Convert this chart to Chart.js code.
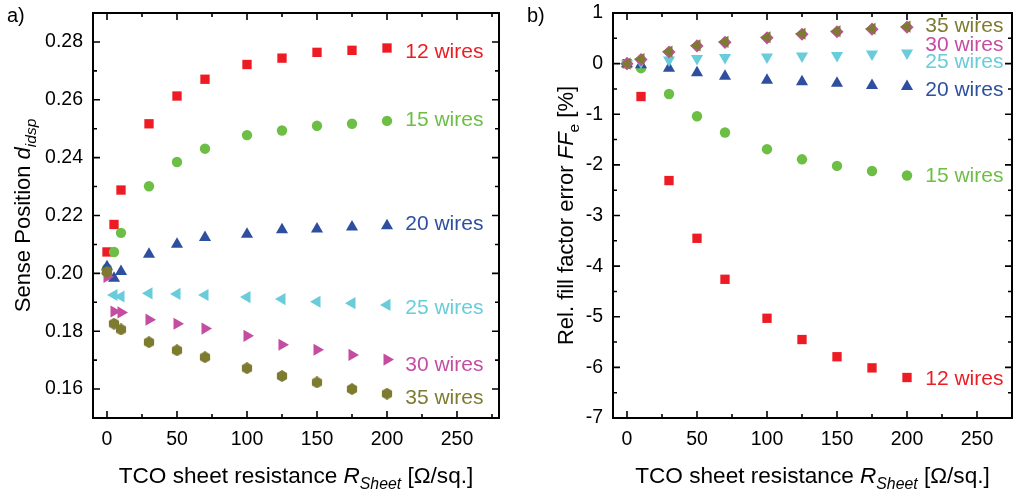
<!DOCTYPE html>
<html>
<head>
<meta charset="utf-8">
<script src="https://cdn.jsdelivr.net/npm/chart.js@4/dist/chart.umd.min.js"></script>
<style>
  html, body { margin: 0; padding: 0; background: #fff; }
  #wrap { position: relative; width: 1013px; height: 492px; }
  canvas { position: absolute; top: 0; }
  #chartA { left: 0; }
  #chartB { left: 506px; }
</style>
</head>
<body>
<div id="wrap">
  <canvas id="chartA" width="506" height="492"></canvas>
  <canvas id="chartB" width="507" height="492"></canvas>
</div>
<script>
// ---- data ----
const seriesNames = ['12 wires', '15 wires', '20 wires', '25 wires', '30 wires', '35 wires'];
const colors = ['#ED1C24', '#6DBE45', '#2E4F9F', '#68CCDA', '#C44DA2', '#7D7B30'];

// a) sense position
const rSheetA = [0, 5, 10, 30, 50, 70, 100, 125, 150, 175, 200];
const pos12 = [0.2074, 0.2169, 0.2288, 0.2517, 0.2613, 0.2671, 0.2722, 0.2744, 0.2764, 0.2771, 0.2779];
const pos15 = [0.2017, 0.2074, 0.2140, 0.2301, 0.2385, 0.2431, 0.2478, 0.2494, 0.2510, 0.2517, 0.2527];
const pos20 = [0.2023, 0.1983, 0.2006, 0.2066, 0.2101, 0.2124, 0.2135, 0.2151, 0.2153, 0.2160, 0.2165];
const pos25 = [0.2000, 0.1925, 0.1920, 0.1931, 0.1929, 0.1925, 0.1918, 0.1911, 0.1902, 0.1897, 0.1891];
const pos30 = [0.1988, 0.1868, 0.1865, 0.1840, 0.1826, 0.1809, 0.1784, 0.1753, 0.1736, 0.1718, 0.1702];
const pos35 = [0.2005, 0.1826, 0.1806, 0.1762, 0.1734, 0.1710, 0.1672, 0.1645, 0.1623, 0.1600, 0.1584];

// b) relative fill factor error [%]
const rSheetB = [0, 10, 30, 50, 70, 100, 125, 150, 175, 200];
const ffe12 = [0, -0.65, -2.31, -3.45, -4.26, -5.03, -5.45, -5.79, -6.01, -6.20];
const ffe15 = [0, -0.09, -0.60, -1.04, -1.36, -1.69, -1.89, -2.02, -2.12, -2.21];
const ffe20 = [0, -0.02, -0.09, -0.18, -0.25, -0.33, -0.36, -0.39, -0.43, -0.45];
const ffe25 = [0, 0.03, 0.07, 0.10, 0.12, 0.13, 0.15, 0.16, 0.19, 0.21];
const ffe30 = [0, 0.08, 0.23, 0.35, 0.42, 0.51, 0.58, 0.63, 0.68, 0.72];
const ffe35 = [0, 0.09, 0.24, 0.36, 0.43, 0.52, 0.59, 0.64, 0.69, 0.73];

// tick values
const xMajor = [0, 50, 100, 150, 200, 250];
const xMinor = [25, 75, 125, 175, 225, 275];
const yMajorA = [0.16, 0.18, 0.20, 0.22, 0.24, 0.26, 0.28];
const yMinorA = [0.15, 0.17, 0.19, 0.21, 0.23, 0.25, 0.27, 0.29];
const yMajorB = [-7, -6, -5, -4, -3, -2, -1, 0, 1];
const yMinorB = [-6.5, -5.5, -4.5, -3.5, -2.5, -1.5, -0.5, 0.5];

// series label anchors (data coordinates)
const labelXA = 213;
const labelYA = [0.2766, 0.2528, 0.2171, 0.1879, 0.1683, 0.1568];
const labelXB = 213;
const labelYB = [-6.23, -2.23, -0.52, 0.03, 0.37, 0.73];

// ---- helpers ----
const FONT = '"Liberation Sans", Arial, sans-serif';

function hexagon(color) {
  const c = document.createElement('canvas');
  c.width = 12; c.height = 12;
  const g = c.getContext('2d');
  g.fillStyle = color;
  g.beginPath();
  for (let i = 0; i < 6; i++) {
    const a = Math.PI / 3 * i - Math.PI / 2;
    g.lineTo(6 + 5.9 * Math.cos(a), 6 + 5.9 * Math.sin(a));
  }
  g.closePath();
  g.fill();
  return c;
}

function drawRich(ctx, parts, x, y) {
  // parts: [text, size, italic, dy]; centred on x
  const setFont = p => { ctx.font = (p[2] ? 'italic ' : '') + p[1] + 'px ' + FONT; };
  let w = 0;
  parts.forEach(p => { setFont(p); w += ctx.measureText(p[0]).width; });
  let cx = x - w / 2;
  parts.forEach(p => { setFont(p); ctx.fillText(p[0], cx, y + (p[3] || 0)); cx += ctx.measureText(p[0]).width; });
}

// scales must not reserve extra room for their labels
const noPad = s => { s.paddingTop = 0; s.paddingBottom = 0; s.paddingLeft = 0; s.paddingRight = 0; };

const framePlugin = {
  id: 'frame',
  afterDatasetsDraw(chart, args, o) {
    const { ctx, scales: { x, y } } = chart;
    ctx.save();
    ctx.font = '21px ' + FONT;
    ctx.textBaseline = 'middle';
    ctx.textAlign = 'left';
    o.labelY.forEach((v, i) => {
      ctx.fillStyle = colors[i];
      ctx.fillText(seriesNames[i], x.getPixelForValue(o.labelX), y.getPixelForValue(v));
    });
    ctx.restore();
  },
  afterDraw(chart, args, o) {
    const { ctx, chartArea: a, scales: { x, y } } = chart;
    ctx.save();
    ctx.strokeStyle = '#000';
    ctx.lineWidth = 2;
    ctx.strokeRect(a.left, a.top, a.right - a.left, a.bottom - a.top);
    ctx.lineWidth = 1.6;
    ctx.beginPath();
    const xt = (vals, len) => vals.forEach(v => {
      const px = x.getPixelForValue(v);
      if (px < a.left || px > a.right) return;
      ctx.moveTo(px, a.bottom); ctx.lineTo(px, a.bottom - len);
      ctx.moveTo(px, a.top); ctx.lineTo(px, a.top + len);
    });
    const yt = (vals, len) => vals.forEach(v => {
      const py = y.getPixelForValue(v);
      ctx.moveTo(a.left, py); ctx.lineTo(a.left + len, py);
      ctx.moveTo(a.right, py); ctx.lineTo(a.right - len, py);
    });
    xt(xMajor, 7); xt(xMinor, 4);
    yt(o.yMajor, 7); yt(o.yMinor, 4);
    ctx.stroke();

    ctx.fillStyle = '#000';
    ctx.textBaseline = 'alphabetic';
    drawRich(ctx, [['TCO sheet resistance ', 22.6], ['R', 22.6, true], ['Sheet', 15.8, true, 6], [' [\u03A9/sq.]', 22.6]],
      (a.left + a.right) / 2, 483);
    ctx.save();
    ctx.translate(o.yTitleX, (a.top + a.bottom) / 2);
    ctx.rotate(-Math.PI / 2);
    drawRich(ctx, o.yTitle, 0, 0);
    ctx.restore();
    ctx.font = '20px ' + FONT;
    ctx.textAlign = 'left';
    ctx.fillText(o.panel, o.panelX, 22);
    ctx.restore();
  }
};

function makeChart(id, xs, series, styles, opts) {
  const datasets = series.map((vals, i) => ({
    label: seriesNames[i],
    data: xs.map((x, j) => ({ x, y: vals[j] })),
    backgroundColor: colors[i],
    pointBackgroundColor: colors[i],
    pointBorderWidth: 0,
    pointStyle: styles[i][0],
    pointRadius: styles[i][1],
    pointRotation: styles[i][2] || 0,
    order: series.length - i
  }));
  return new Chart(document.getElementById(id), {
    type: 'scatter',
    data: { datasets },
    options: {
      responsive: false,
      animation: false,
      events: [],
      layout: { autoPadding: false, padding: { top: 13, right: opts.padRight, left: 0, bottom: 0 } },
      plugins: { legend: { display: false }, tooltip: { enabled: false }, frame: opts.frame },
      scales: {
        x: {
          type: 'linear', min: opts.xMin, max: opts.xMax,
          afterBuildTicks: s => { s.ticks = xMajor.map(v => ({ value: v })); },
          afterFit: s => { s.height = 74; noPad(s); },
          grid: { display: false, drawTicks: false }, border: { display: false },
          ticks: { padding: 10, color: '#000', font: { family: FONT, size: 19.5 } }
        },
        y: {
          type: 'linear', min: opts.yMin, max: opts.yMax,
          afterBuildTicks: s => { s.ticks = opts.frame.yMajor.map(v => ({ value: v })); },
          afterFit: s => { s.width = opts.yWidth; noPad(s); },
          grid: { display: false, drawTicks: false }, border: { display: false },
          ticks: { padding: 10, color: '#000', font: { family: FONT, size: 19.5 }, callback: opts.fmt }
        }
      }
    },
    plugins: [framePlugin]
  });
}

makeChart('chartA', rSheetA, [pos12, pos15, pos20, pos25, pos30, pos35],
  [['rect', 6.6], ['circle', 5.2], ['triangle', 7], ['triangle', 7, -90], ['triangle', 7, 90], [hexagon(colors[5]), 6]],
  {
    xMin: -10, xMax: 280, yMin: 0.15, yMax: 0.29, yWidth: 93, padRight: 7,
    fmt: v => v.toFixed(2),
    frame: {
      yMajor: yMajorA, yMinor: yMinorA, labelX: labelXA, labelY: labelYA,
      panel: 'a)', panelX: 7, yTitleX: 30,
      yTitle: [['Sense Position ', 22], ['d', 22, true], ['idsp', 15.5, true, 6]]
    }
  });

makeChart('chartB', rSheetB, [ffe12, ffe15, ffe20, ffe25, ffe30, ffe35],
  [['rect', 6.6], ['circle', 5.2], ['triangle', 7], ['triangle', 7, 180], ['rectRot', 6.6], ['triangle', 7, -90]],
  {
    xMin: -10, xMax: 275, yMin: -7, yMax: 1, yWidth: 107, padRight: 1,
    fmt: v => String(v),
    frame: {
      yMajor: yMajorB, yMinor: yMinorB, labelX: labelXB, labelY: labelYB,
      panel: 'b)', panelX: 21, yTitleX: 67,
      yTitle: [['Rel. fill factor error ', 22], ['FF', 22, true], ['e', 15.5, false, 6], [' [%]', 22]]
    }
  });
</script>
</body>
</html>
